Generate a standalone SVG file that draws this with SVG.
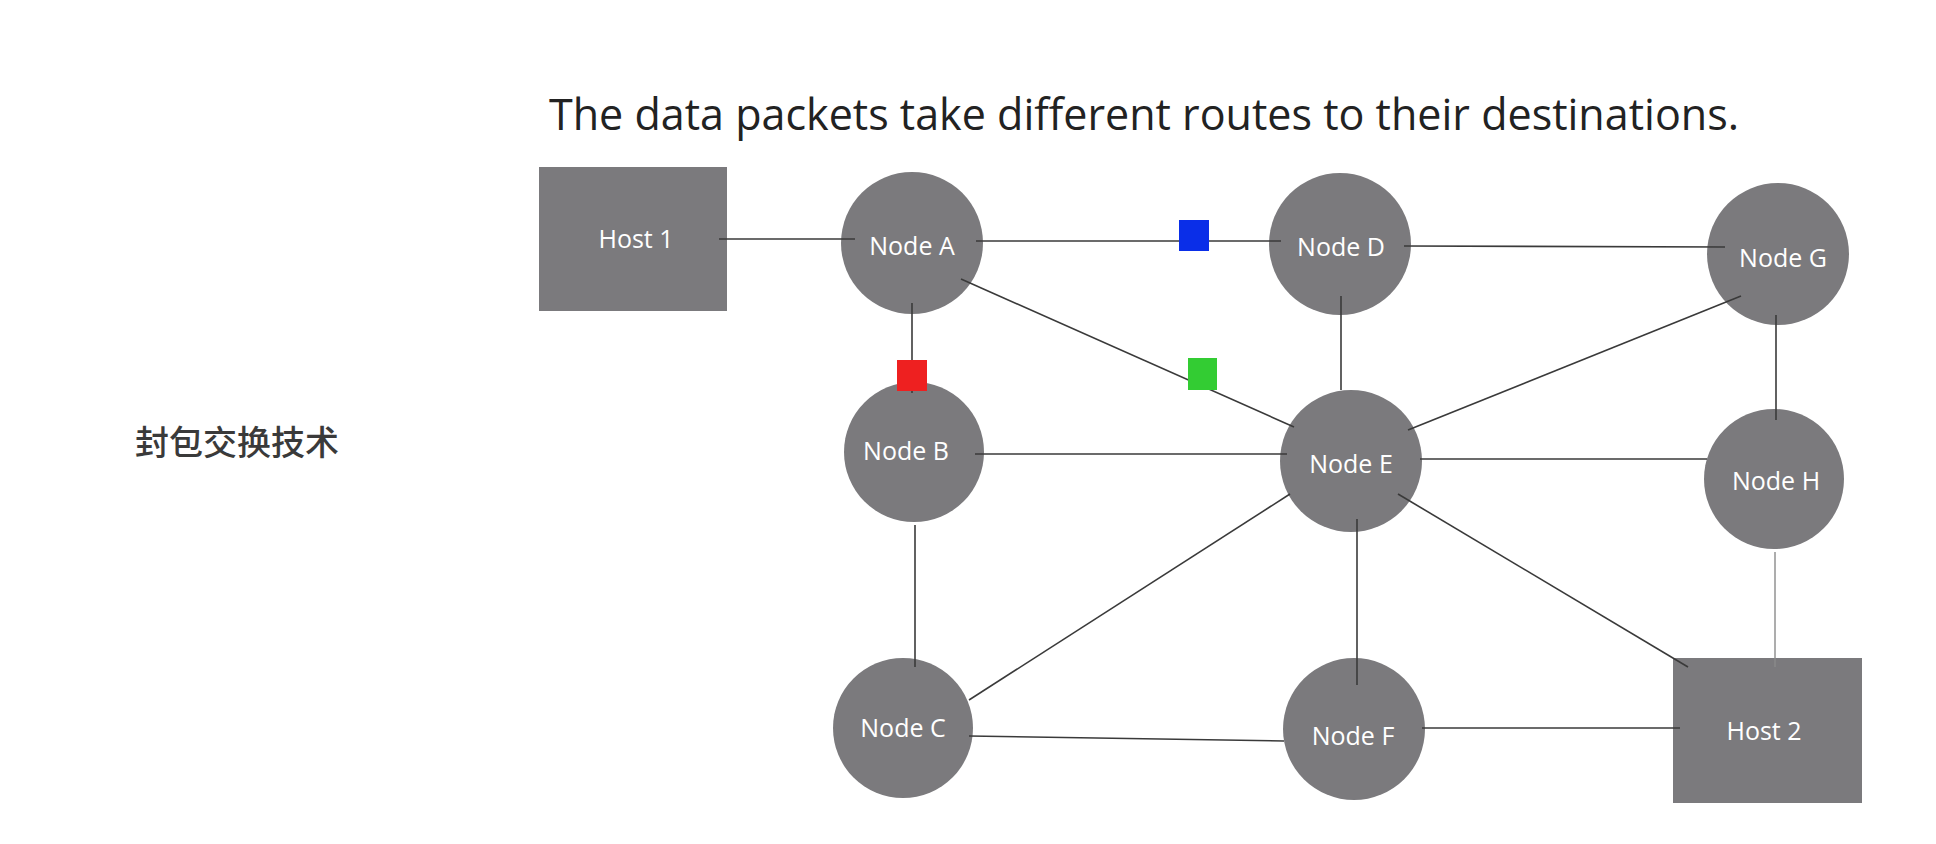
<svg xmlns="http://www.w3.org/2000/svg" width="1936" height="844" viewBox="0 0 1936 844">
<style>
.nd{fill:#7b7a7d}
.lb{font-family:"Open Sans","Liberation Sans",sans-serif;font-size:25px;fill:#ffffff;text-anchor:middle;dominant-baseline:central}
.ln{stroke:#3a3a3a;stroke-width:1.6;fill:none}
.lt{stroke:#8a8a8a;stroke-width:1.4;fill:none}
</style>
<rect width="1936" height="844" fill="#ffffff"/>
<text x="549" y="130" font-family="'Open Sans','Liberation Sans',sans-serif" font-size="43" fill="#222222" textLength="1190" lengthAdjust="spacingAndGlyphs">The data packets take different routes to their destinations.</text>
<text x="135" y="455" font-family="'Noto Sans CJK SC','Noto Sans',sans-serif" font-size="34" font-weight="500" fill="#3a3a3a">封包交换技术</text>
<g id="host1"><rect class="nd" x="539" y="167" width="188" height="144"/><text class="lb" x="636" y="238">Host 1</text></g>
<g id="nodeA"><circle class="nd" cx="912" cy="243" r="71"/><text class="lb" x="912" y="245">Node A</text></g>
<g id="nodeB"><circle class="nd" cx="914" cy="452" r="70"/><text class="lb" x="906" y="450">Node B</text></g>
<g id="nodeC"><circle class="nd" cx="903" cy="728" r="70"/><text class="lb" x="903" y="727">Node C</text></g>
<g id="nodeD"><circle class="nd" cx="1340" cy="244" r="71"/><text class="lb" x="1341" y="246">Node D</text></g>
<g id="nodeE"><circle class="nd" cx="1351" cy="461" r="71"/><text class="lb" x="1351" y="463">Node E</text></g>
<g id="nodeF"><circle class="nd" cx="1354" cy="729" r="71"/><text class="lb" x="1353" y="735">Node F</text></g>
<g id="nodeG"><circle class="nd" cx="1778" cy="254" r="71"/><text class="lb" x="1783" y="257">Node G</text></g>
<g id="nodeH"><circle class="nd" cx="1774" cy="479" r="70"/><text class="lb" x="1776" y="480">Node H</text></g>
<g id="host2"><rect class="nd" x="1673" y="658" width="189" height="145"/><text class="lb" x="1764" y="730">Host 2</text></g>
<g id="connectors">
<line class="ln" x1="719" y1="239" x2="855" y2="239"/>
<line class="ln" x1="976" y1="241" x2="1281" y2="241"/>
<line class="ln" x1="912" y1="303" x2="912" y2="393"/>
<line class="ln" x1="961" y1="279" x2="1294" y2="427"/>
<line class="ln" x1="1404" y1="246" x2="1725" y2="247"/>
<line class="ln" x1="1341" y1="296" x2="1341" y2="390"/>
<line class="ln" x1="1741" y1="296" x2="1408" y2="430"/>
<line class="ln" x1="1776" y1="315" x2="1776" y2="420"/>
<line class="ln" x1="975" y1="454" x2="1287" y2="454"/>
<line class="ln" x1="1420" y1="459" x2="1707" y2="459"/>
<line class="ln" x1="915" y1="525" x2="915" y2="667"/>
<line class="ln" x1="1290" y1="494" x2="969" y2="700"/>
<line class="ln" x1="1357" y1="519" x2="1357" y2="685"/>
<line class="ln" x1="1398" y1="494" x2="1688" y2="667"/>
<line class="lt" x1="1775" y1="552" x2="1775" y2="667"/>
<line class="ln" x1="969" y1="736" x2="1284" y2="741"/>
<line class="ln" x1="1422" y1="728" x2="1680" y2="728"/>
</g>
<g id="packets">
<rect x="897" y="360" width="30" height="31" fill="#ee2020"/>
<rect x="1179" y="220" width="30" height="31" fill="#0a2ee8"/>
<rect x="1188" y="358" width="29" height="32" fill="#33cc33"/>
</g>
</svg>
